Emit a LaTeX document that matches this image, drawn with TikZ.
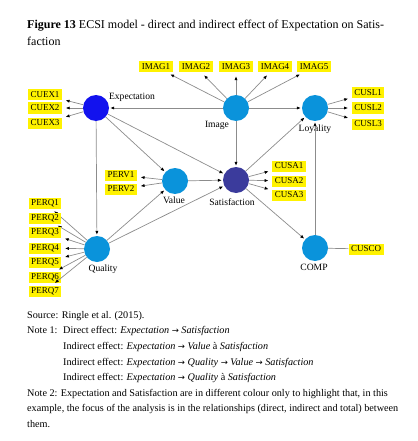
\documentclass[tikz,border=0pt]{standalone}
\usepackage{fontspec}
\setmainfont{Liberation Serif}
\newfontfamily\arrowfont{DejaVu Sans}
\usetikzlibrary{arrows.meta}
\definecolor{constblue}{HTML}{0A93DB}
\definecolor{expblue}{HTML}{1212EE}
\definecolor{satblue}{HTML}{3B3B9C}
\definecolor{indyellow}{HTML}{FFF200}
\colorlet{pathgray}{black!45}
\newcommand{\toarrow}{{\arrowfont\fontsize{8.5}{10}\selectfont →}}

\begin{document}
\begin{tikzpicture}[x=1pt,y=-1pt,
  lv/.style={circle,minimum size=26pt,inner sep=0pt},
  mv/.style={fill=indyellow,inner xsep=2.5pt,inner ysep=1pt,minimum height=11pt,font=\fontsize{9}{10}\selectfont},
  lab/.style={font=\fontsize{9.6}{11}\selectfont,inner sep=0pt},
  effect/.style={draw=pathgray,line width=0.7pt,-{Latex[black,length=4pt,width=3.2pt]},shorten >=1pt},
  loading/.style={effect,shorten >=3.5pt},
  txt/.style={anchor=base west,inner sep=0pt,font=\fontsize{10.2}{12}\selectfont}]
\useasboundingbox (0,0) rectangle (417,441);

% title
\node[txt,font=\fontsize{12}{14}\selectfont] (title1) at (27,29) {\textbf{Figure 13} ECSI model - direct and indirect effect of Expectation on Satis-};
\node[txt,font=\fontsize{12}{14}\selectfont] (title2) at (27,46) {faction};

% latent variables
\node[lv,fill=expblue] (exp) at (96,108) {};
\node[lv,fill=constblue] (img) at (236,108) {};
\node[lv,fill=constblue] (loy) at (315,108) {};
\node[lv,fill=constblue] (val) at (175,181) {};
\node[lv,fill=satblue] (sat) at (236,180) {};
\node[lv,fill=constblue] (qua) at (97,249) {};
\node[lv,fill=constblue] (comp) at (315,248) {};

\node[lab] (explab) at (132,97) {Expectation};
\node[lab] (imglab) at (217,125) {Image};
\node[lab] (loylab) at (315,129) {Loyality};
\node[lab] (vallab) at (174,200) {Value};
\node[lab] (satlab) at (232,202) {Satisfaction};
\node[lab] (qualab) at (103,269) {Quality};
\node[lab] (complab) at (314,267) {COMP};

% indicators
\foreach \i/\x in {1/156,2/196,3/236,4/275,5/314}{
  \node[mv] (imag\i) at (\x,67) {IMAG\i};
  \draw[loading] (img) -- (imag\i);
}
\foreach \i/\y in {1/95,2/108,3/123}{
  \node[mv] (cuex\i) at (45,\y) {CUEX\i};
  \draw[loading] (exp) -- (cuex\i);
}
\foreach \i/\y in {1/93,2/108,3/124}{
  \node[mv] (cusl\i) at (368,\y) {CUSL\i};
  \draw[loading] (loy) -- (cusl\i);
}
\foreach \i/\y in {1/166,2/181,3/195}{
  \node[mv] (cusa\i) at (289,\y) {CUSA\i};
  \draw[loading] (sat) -- (cusa\i);
}
\foreach \i/\y in {1/175,2/189}{
  \node[mv] (perv\i) at (121,\y) {PERV\i};
  \draw[loading] (val) -- (perv\i);
}
\foreach \i/\y in {1/203,2/218,3/232,4/248,5/262,6/277,7/291}{
  \node[mv] (perq\i) at (45,\y) {PERQ\i};
  \draw[loading] (qua) -- (perq\i);
}
\node[mv] (cusco) at (366,249) {CUSCO};
\draw[pathgray,line width=0.7pt] (comp) -- (cusco);

% inner model
\draw[effect] (img) -- (exp);
\draw[effect] (img) -- (loy);
\draw[effect] (img) -- (sat);
\draw[effect] (exp) -- (val);
\draw[effect] (exp) -- (sat);
\draw[effect] (exp) -- (qua);
\draw[effect] (qua) -- (val);
\draw[effect] (qua) -- (sat);
\draw[effect] (val) -- (sat);
\draw[effect] (sat) -- (loy);
\draw[effect] (sat) -- (comp);
\draw[effect] (comp) -- (loy);

% notes
\node[txt] (source) at (27,318.5) {Source: Ringle et al. (2015).};
\node[txt] (note1) at (27,333.5) {Note 1:};
\node[txt] (eff1) at (63,333.5) {Direct effect: \textit{Expectation} \toarrow{} \textit{Satisfaction}};
\node[txt] (eff2) at (63,349.5) {Indirect effect: \textit{Expectation} \toarrow{} \textit{Value} à \textit{Satisfaction}};
\node[txt] (eff3) at (63,365.5) {Indirect effect: \textit{Expectation} \toarrow{} \textit{Quality} \toarrow{} \textit{Value} \toarrow{} \textit{Satisfaction}};
\node[txt] (eff4) at (63,380.5) {Indirect effect: \textit{Expectation} \toarrow{} \textit{Quality} à \textit{Satisfaction}};
\node[txt] (note2a) at (27,396.5) {Note 2: Expectation and Satisfaction are in different colour only to highlight that, in this};
\node[txt] (note2b) at (27,411.5) {example, the focus of the analysis is in the relationships (direct, indirect and total) between};
\node[txt] (note2c) at (27,427.5) {them.};
\end{tikzpicture}
\end{document}
